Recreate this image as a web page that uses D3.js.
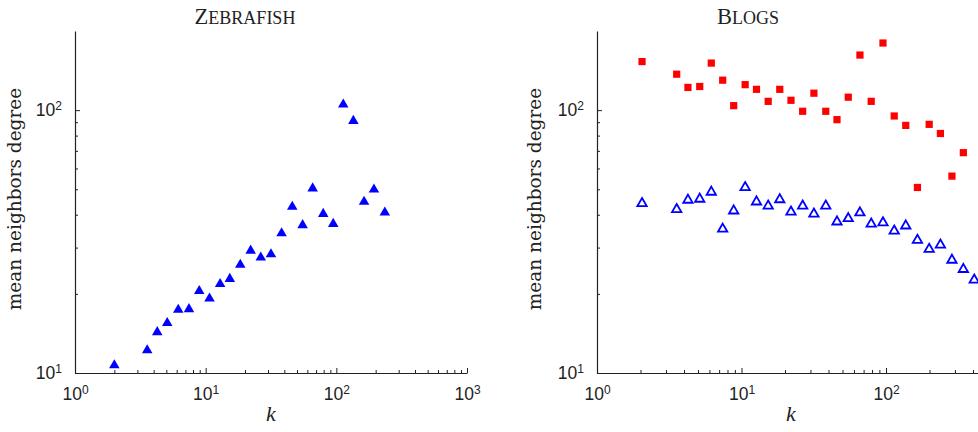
<!DOCTYPE html>
<html>
<head>
<meta charset="utf-8">
<script src="https://cdn.jsdelivr.net/npm/d3@7"></script>
<style>
  html, body { margin: 0; padding: 0; background: #fff; }
  svg { display: block; }
</style>
</head>
<body>
<svg id="chart" width="978" height="432"></svg>
<script>
// ---- data ----
const zebraK = [2, 3.57, 4.26, 5.08, 6.17, 7.45, 8.93, 10.7, 12.9, 15.3, 18.4, 22.1, 26.4, 31.6, 38.1, 46, 55.2, 65.9, 79.4, 94.7, 113, 135, 163, 194, 235];
const zebraV = [10.7, 12.2, 14.3, 15.5, 17.4, 17.5, 20.5, 19.2, 21.8, 22.8, 25.8, 29.2, 27.5, 28.3, 34.0, 42.9, 36.5, 50.4, 40.3, 36.9, 105, 91, 44.8, 49.9, 40.8];

const blogsRedK = [2.05, 3.56, 4.26, 5.14, 6.18, 7.41, 8.83, 10.6, 12.7, 15.3, 18.4, 22.0, 26.5, 31.7, 38.3, 45.8, 54.8, 66, 79, 95.3, 114, 137, 165, 199, 238, 286, 343];
const blogsRedV = [153, 137, 122, 123, 151, 130, 104, 125, 120, 108, 120, 109, 99, 116, 99, 92, 112, 162, 108, 180, 95, 87.5, 50.8, 88.3, 81.5, 56.1, 68.9];

const blogsBlueK = [2.05, 3.56, 4.26, 5.14, 6.18, 7.41, 8.83, 10.6, 12.7, 15.3, 18.4, 22.0, 26.5, 31.7, 38.3, 45.8, 54.8, 66, 79, 95.3, 114, 137, 165, 199, 238, 286, 343, 408];
const blogsBlueV = [44.2, 41.9, 45.5, 45.9, 48.8, 35.3, 41.4, 50.8, 44.8, 43.2, 45.7, 41.0, 43.2, 40.3, 43.2, 37.6, 38.7, 40.7, 36.9, 37.3, 34.7, 36.3, 32.0, 29.6, 30.7, 26.9, 24.8, 22.6];

const xDomain = [1, 1000];
const yDomain = [10, 200];
const xMajorTicks = [1, 10, 100, 1000];
const yMajorTicks = [10, 100];
const titles = ["Zebrafish", "Blogs"];
const yLabel = "mean neighbors degree";
const xLabel = "k";

// ---- layout ----
const W = 978;
const svg = d3.select("#chart");
const panels = [
  { title: titles[0], x0: 75, x1: 467, titleX: 245, yLabelX: 21, kX: 271,
    series: [{ k: zebraK, v: zebraV, type: "triFilled" }] },
  { title: titles[1], x0: 597, x1: 597 + 3 * 144.5, titleX: 748, yLabelX: 541, kX: 791,
    series: [{ k: blogsRedK, v: blogsRedV, type: "square" },
             { k: blogsBlueK, v: blogsBlueV, type: "triOpen" }] }
];
const yTop = 31, yBot = 373;
const axisColor = "#222";
const textColor = "#222";

function minorTicks(domain) {
  const out = [];
  for (let p = Math.floor(Math.log10(domain[0])); p < Math.ceil(Math.log10(domain[1])); p++) {
    for (let m = 2; m <= 9; m++) {
      const v = m * Math.pow(10, p);
      if (v > domain[0] && v < domain[1]) out.push(v);
    }
  }
  return out;
}

function supLabels(sel) {
  sel.selectAll(".tick text").each(function(d) {
    const t = d3.select(this);
    const e = Math.round(Math.log10(d));
    t.text(null);
    t.append("tspan").text("10");
    t.append("tspan").attr("dy", "-0.5em").style("font-size", "12px").text(String(e));
  });
}

panels.forEach(p => {
  const x = d3.scaleLog().domain(xDomain).range([p.x0, p.x1]);
  const y = d3.scaleLog().domain(yDomain).range([yBot, yTop]);
  const g = svg.append("g");

  // x axis: minor then major
  const gxMinor = g.append("g").attr("transform", `translate(0,${yBot})`)
    .call(d3.axisBottom(x).tickValues(minorTicks(xDomain).filter(v => x(v) < W)).tickSize(-3).tickFormat(""));
  gxMinor.select(".domain").remove();
  const gx = g.append("g").attr("transform", `translate(0,${yBot})`)
    .call(d3.axisBottom(x).tickValues(xMajorTicks.filter(v => x(v) < W - 10)).tickSizeInner(-5).tickSizeOuter(0).tickPadding(15));
  supLabels(gx);

  // y axis
  const gyMinor = g.append("g").attr("transform", `translate(${p.x0},0)`)
    .call(d3.axisLeft(y).tickValues(minorTicks(yDomain)).tickSize(-3).tickFormat(""));
  gyMinor.select(".domain").remove();
  const gy = g.append("g").attr("transform", `translate(${p.x0},0)`)
    .call(d3.axisLeft(y).tickValues(yMajorTicks).tickSizeInner(-5).tickSizeOuter(0).tickPadding(13));
  supLabels(gy);

  g.selectAll(".domain").attr("stroke", axisColor).attr("stroke-width", 1.2);
  g.selectAll(".tick line").attr("stroke", axisColor).attr("stroke-width", 1);
  g.selectAll(".tick text")
    .attr("fill", textColor)
    .style("font-family", "'Liberation Sans', Arial, sans-serif")
    .style("font-size", "17.5px");

  // series
  p.series.forEach(s => {
    const pts = s.k.map((k, i) => ({ k, v: s.v[i] }));
    let sym, fill, stroke, sw;
    if (s.type === "triFilled") {
      sym = d3.symbol().type(d3.symbolTriangle).size(48); fill = "#0000ff"; stroke = "none"; sw = 0;
    } else if (s.type === "square") {
      sym = d3.symbol().type(d3.symbolSquare).size(52); fill = "#ff0000"; stroke = "none"; sw = 0;
    } else {
      sym = d3.symbol().type(d3.symbolTriangle).size(38); fill = "none"; stroke = "#0000ff"; sw = 1.8;
    }
    g.append("g").selectAll("path").data(pts).join("path")
      .attr("d", sym)
      .attr("transform", d => `translate(${x(d.k)},${y(d.v)})`)
      .attr("fill", fill)
      .attr("stroke", stroke)
      .attr("stroke-width", sw);
  });

  // title (small caps emulation)
  const tt = g.append("text")
    .attr("x", p.titleX).attr("y", 24)
    .attr("text-anchor", "middle")
    .attr("fill", textColor)
    .attr("font-family", "'Liberation Serif', 'Times New Roman', serif");
  tt.append("tspan").attr("font-size", "22.5px").text(p.title[0].toUpperCase());
  tt.append("tspan").attr("font-size", "18px").text(p.title.slice(1).toUpperCase());

  // x label
  g.append("text")
    .attr("x", p.kX).attr("y", 421)
    .attr("text-anchor", "middle")
    .attr("fill", textColor)
    .attr("font-family", "'Liberation Serif', 'Times New Roman', serif")
    .attr("font-style", "italic")
    .attr("font-size", "22px")
    .text(xLabel);

  // y label
  g.append("text")
    .attr("transform", `translate(${p.yLabelX},199) rotate(-90)`)
    .attr("text-anchor", "middle")
    .attr("fill", textColor)
    .attr("font-family", "'DejaVu Serif', 'Liberation Serif', serif")
    .attr("font-size", "18.5px")
    .text(yLabel);
});
</script>
</body>
</html>
